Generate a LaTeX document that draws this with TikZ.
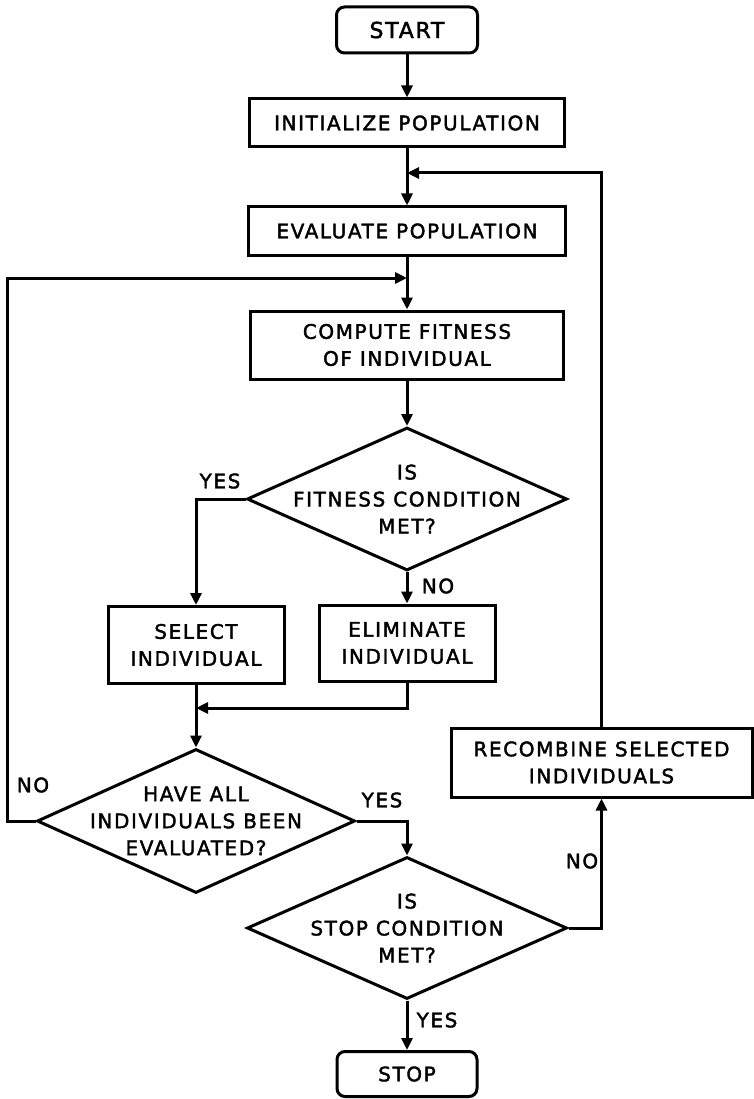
\documentclass[tikz,border=0pt]{standalone}
\usepackage{fontspec}
\newfontfamily\flowfont[LetterSpace=8,FakeBold=2]{DejaVu Sans}
\usetikzlibrary{shapes.geometric,arrows.meta}
\begin{document}
\begin{tikzpicture}[x=1pt,y=-1pt,
  every node/.style={font=\flowfont\fontsize{20}{27}\selectfont, align=center, inner sep=0pt},
  box/.style={draw, line width=3pt, rectangle},
  term/.style={box, rounded corners=8pt},
  dia/.style={draw, line width=3pt, diamond, shape aspect=2.2},
  link/.style={line width=3pt, -{Triangle[length=12pt,width=11pt]}},
  lbl/.style={font=\flowfont\fontsize{20}{24}\selectfont}]
\useasboundingbox (0,0) rectangle (753,1099);

% process boxes
\node[term, minimum width=141pt, minimum height=46pt] (start) at (407,30) {\fontsize{22}{26}\selectfont START};
\node[box, minimum width=315pt, minimum height=48pt] (init) at (407,123) {INITIALIZE POPULATION};
\node[box, minimum width=317pt, minimum height=48pt] (eval) at (407,231) {EVALUATE POPULATION};
\node[box, minimum width=313pt, minimum height=68pt] (comp) at (407,345) {COMPUTE FITNESS\\OF INDIVIDUAL};

% decision: fitness
\node[dia, minimum width=320pt, minimum height=143pt] (fit) at (407,499) {};
\node at (fit) {IS\\FITNESS CONDITION\\MET?};

\node[box, minimum width=176pt, minimum height=77pt] (sel) at (196,645) {SELECT\\INDIVIDUAL};
\node[box, minimum width=176pt, minimum height=76pt] (elim) at (407,643) {ELIMINATE\\INDIVIDUAL};

% decision: all evaluated
\node[dia, minimum width=318pt, minimum height=144pt] (have) at (196,821) {};
\node at (have) {HAVE ALL\\INDIVIDUALS BEEN\\EVALUATED?};

% decision: stop
\node[dia, minimum width=320pt, minimum height=142pt] (stopq) at (407,928) {};
\node at (stopq) {IS\\STOP CONDITION\\MET?};

\node[box, minimum width=301pt, minimum height=69pt] (recomb) at (601.5,762.5) {RECOMBINE SELECTED\\INDIVIDUALS};
\node[term, minimum width=140pt, minimum height=45pt] (stop) at (407,1074) {STOP};

% junction points
\coordinate (loopR) at (407,173);
\coordinate (loopL) at (407,278);
\coordinate (leftcol) at (7,278);
\coordinate (merge) at (196,708);

% main flow
\draw[link] (start) -- (init);
\draw[link] (init) -- (eval);
\draw[link] (eval) -- (comp);
\draw[link] (comp) -- (fit.north);
\draw[link] (fit.west) -| (sel.north);
\draw[link] (fit.south) -- (elim.north);
\draw[link] (sel.south) -- (have.north);
\draw[link] (elim.south) |- (merge);
\draw[link] (have.east) -| (stopq.north);
\draw[link] (stopq.south) -- (stop.north);
\draw[link] (stopq.east) -| (recomb.south);

% feedback loops
\draw[link] (have.west) -- (have.west -| leftcol) -- (leftcol) -- (loopL);
\draw[link] (recomb.north) |- (loopR);

% branch labels
\node[lbl] (yes1) at (220,481) {YES};
\node[lbl] (no1) at (438,586) {NO};
\node[lbl] (no2) at (33,785) {NO};
\node[lbl] (yes2) at (382,800) {YES};
\node[lbl] (no3) at (582,861) {NO};
\node[lbl] (yes3) at (437,1020) {YES};
\end{tikzpicture}
\end{document}
